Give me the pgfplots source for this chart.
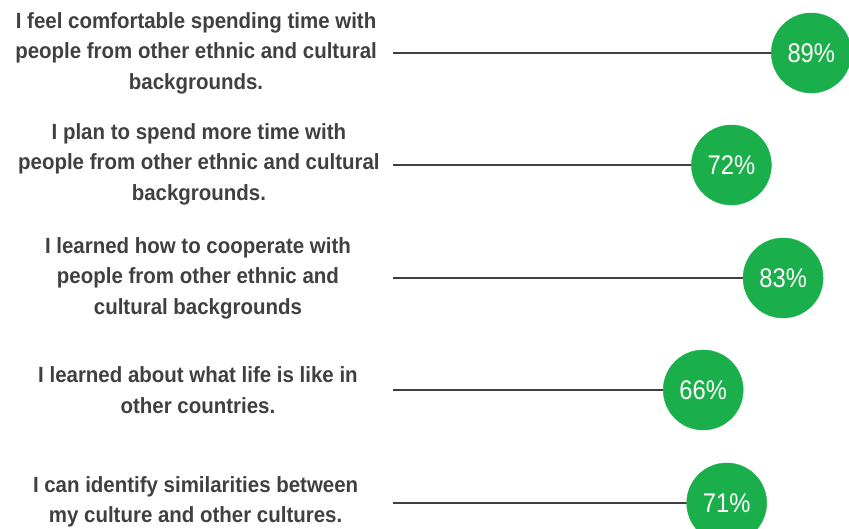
\documentclass[border=0pt]{standalone}
\usepackage{pgfplots}
\pgfplotsset{compat=1.18}
\usepackage{fontspec}
\setmainfont{Liberation Sans}[FakeStretch=0.93]
\newfontfamily\pctfont{Liberation Sans}[FakeStretch=0.88]
\definecolor{lgreen}{HTML}{1AAF4B}
\definecolor{txt}{HTML}{404040}
\begin{document}
\begin{tikzpicture}
\useasboundingbox (0,0) rectangle (849pt,529pt);
\clip (0,0) rectangle (849pt,529pt);
\begin{axis}[
  at={(0,0)}, anchor=south west,
  scale only axis, width=849pt, height=529pt,
  xmin=-83.617, xmax=97.021, ymin=-529, ymax=0,
  hide axis, clip=false,
  /pgf/number format/assume math mode=true,
]
\addplot[xcomb, draw=txt, line width=1.6pt] coordinates {
  (89,-53) (72,-165) (83,-278) (66,-390) (71,-503)};
\addplot[only marks, mark=*, mark size=40pt, color=lgreen,
  mark options={fill=lgreen, draw=lgreen},
  point meta=x, nodes near coords={\pgfmathprintnumber{\pgfplotspointmeta}\%},
  nodes near coords align={center},
  every node near coord/.append style={anchor=center, text=white, font=\pctfont\fontsize{27}{30}\selectfont}]
  coordinates {(89,-53) (72,-165) (83,-278) (66,-390) (71,-503)};
\begin{scope}[every node/.style={align=center, text=txt, font=\fontsize{22}{30.5}\selectfont\bfseries}]
\node at (axis cs:-41.9,-53) {I feel comfortable spending time with\\people from other ethnic and cultural\\backgrounds.};
\node at (axis cs:-41.3,-164) {I plan to spend more time with\\people from other ethnic and cultural\\backgrounds.};
\node at (axis cs:-41.5,-278) {I learned how to cooperate with\\people from other ethnic and\\cultural backgrounds};
\node at (axis cs:-41.5,-390) {I learned about what life is like in\\other countries.};
\node at (axis cs:-42,-502) {I can identify similarities between\\my culture and other cultures.};
\end{scope}
\end{axis}
\end{tikzpicture}
\end{document}
